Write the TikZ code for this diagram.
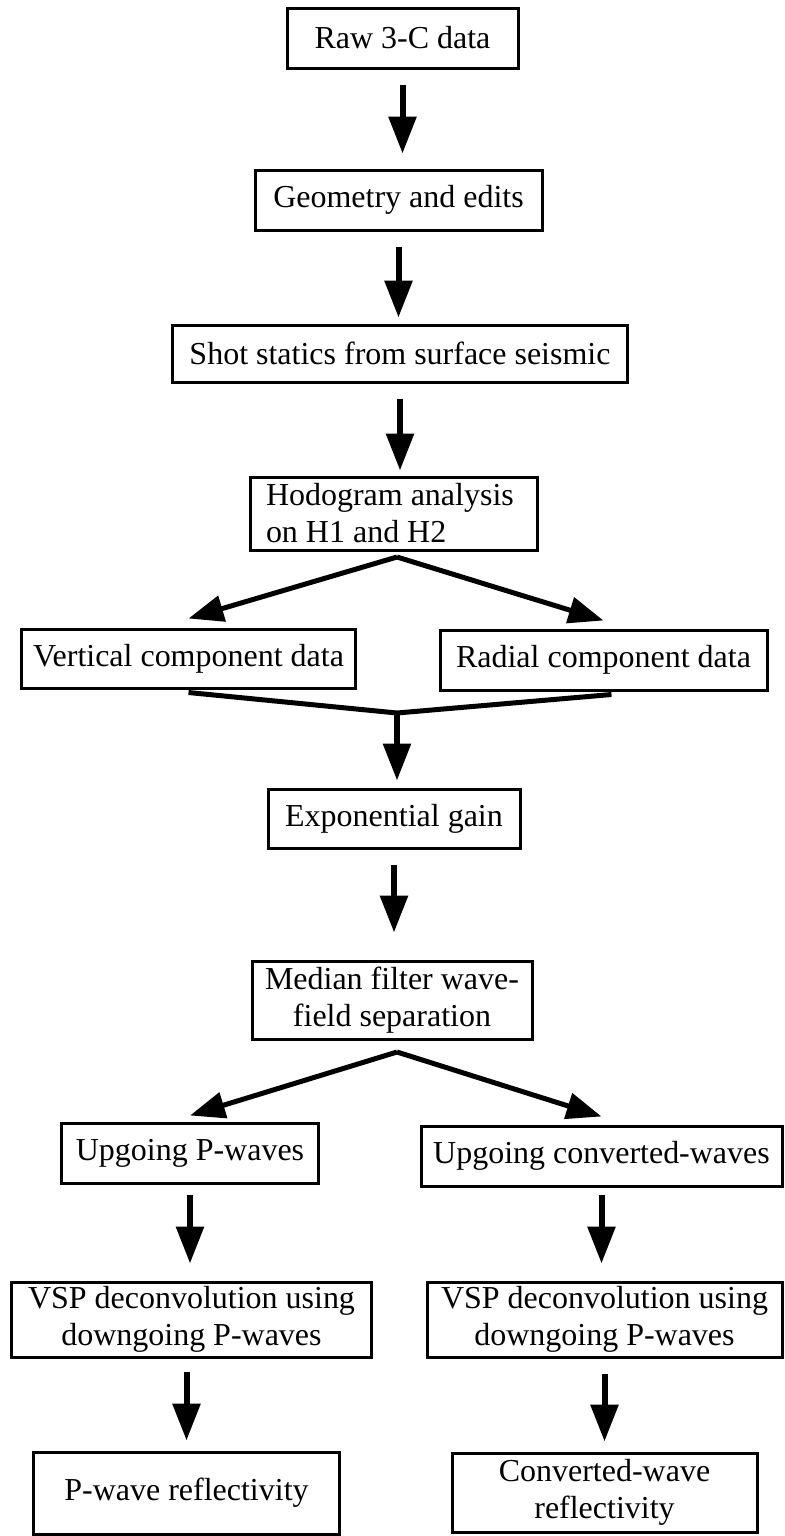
\documentclass[tikz,border=0pt]{standalone}
\usepackage{fontspec}
\setmainfont{Liberation Serif}
\usetikzlibrary{arrows.meta,positioning,calc}

\tikzset{
    stage/.style={draw,line width=0.6mm,inner sep=0pt,align=center,font=\fontsize{18.2}{21}\selectfont},
    flow/.style={-{Triangle[width=5.4mm,length=7.4mm]},line width=1.2mm},
    branch/.style={-{Triangle[width=5.2mm,length=7mm]},line width=1mm},
    joinline/.style={line width=1mm,line join=miter}
}

\begin{document}
\begin{tikzpicture}[x=0.2mm,y=-0.2mm]
        \useasboundingbox (0,0) rectangle (785,1536);

        % Top chain of steps
        \node[stage,minimum width=46.2mm,minimum height=12mm] (raw) at (402.5,38) {Raw 3-C data};
        \node[stage,minimum width=57.4mm,minimum height=12mm] (geom) at (398.5,200) {Geometry and edits};
        \node[stage,minimum width=90.8mm,minimum height=11.4mm] (shot) at (400,353.5) {Shot statics from surface seismic};
        \node[stage,align=flush left,text width=51mm,inner xsep=3.2mm,minimum height=14.6mm] (hodo) at (393.5,513.5) {Hodogram analysis\\on H1 and H2};

        % Component data
        \node[stage,minimum width=66.6mm,minimum height=11.8mm] (vert) at (188.5,658.5) {Vertical component data};
        \node[stage,minimum width=65.4mm,minimum height=12mm] (radial) at (603.5,660) {Radial component data};

        % Middle steps
        \node[stage,minimum width=50.4mm,minimum height=11.8mm] (expgain) at (394,818.5) {Exponential gain};
        \node[stage,minimum width=56mm,minimum height=15.6mm] (median) at (392,1000) {Median filter wave-\\field separation};

        % Left branch (P-waves)
        \node[stage,minimum width=51.2mm,minimum height=12mm] (upP) at (190,1153) {Upgoing P-waves};
        \node[stage,minimum width=71.8mm,minimum height=15mm] (vspP) at (191.5,1319.5) {VSP deconvolution using\\downgoing P-waves};
        \node[stage,minimum width=61mm,minimum height=16.4mm] (reflP) at (186.5,1493) {P-wave reflectivity};

        % Right branch (converted waves)
        \node[stage,minimum width=72.2mm,minimum height=12mm] (upC) at (601.5,1156) {Upgoing converted-waves};
        \node[stage,minimum width=71mm,minimum height=15mm] (vspC) at (604.5,1319.5) {VSP deconvolution using\\downgoing P-waves};
        \node[stage,minimum width=61mm,minimum height=15.8mm] (reflC) at (604.5,1492.5) {Converted-wave\\reflectivity};

        % Split and merge points
        \coordinate (split1) at (397,557);
        \coordinate (merge) at (397,713);
        \coordinate (split2) at (397,1052);

        % Straight arrows
        \draw[flow,shorten <=3mm,shorten >=3mm] (raw) -- (raw |- geom.north);
        \draw[flow,shorten <=3mm,shorten >=1.2mm] (geom) -- (geom |- shot.north);
        \draw[flow,shorten <=3mm,shorten >=1mm] (shot) -- (shot |- hodo.north);
        \draw[flow,shorten >=1.4mm] (merge) -- (merge |- expgain.north);
        \draw[flow,shorten <=3mm,shorten >=5.4mm] (expgain) -- (expgain |- median.north);
        \draw[flow,shorten <=2mm,shorten >=3.4mm] (upP) -- (upP |- vspP.north);
        \draw[flow,shorten <=1.4mm,shorten >=3.4mm] (upC) -- (upC |- vspC.north);
        \draw[flow,shorten <=2.6mm,shorten >=2mm] (reflP |- vspP.south) -- (reflP);
        \draw[flow,shorten <=3mm,shorten >=2mm] (vspC) -- (reflC);

        % Branching arrows
        \draw[branch] (split1) -- ([yshift=1.8mm]vert.north);
        \draw[branch] (split1) -- ([yshift=1.6mm]radial.north);
        \draw[branch] (split2) -- ([yshift=1.2mm]upP.north);
        \draw[branch] (split2) -- ([yshift=1.6mm]upC.north);

        % Merging lines
        \draw[joinline] ([yshift=-0.6mm]vert.south) -- (merge) -- ([xshift=1.6mm,yshift=-0.6mm]radial.south);
    \end{tikzpicture}
\end{document}
